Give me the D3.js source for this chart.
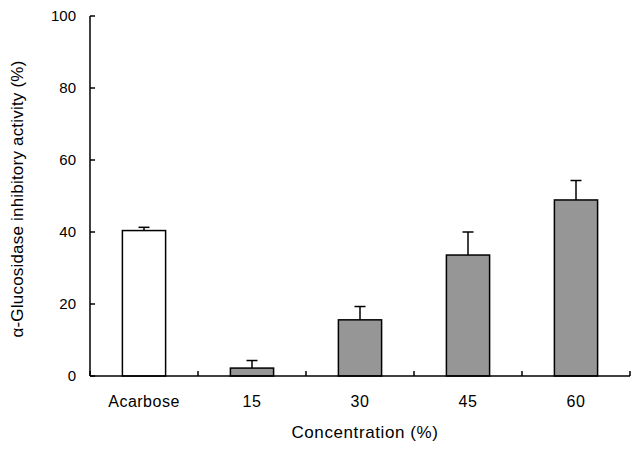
<html>
<head>
<script src="https://d3js.org/d3.v7.min.js"></script>
<style>
  body { margin: 0; background: #fff; }
  text { font-family: "Liberation Sans", Arial, sans-serif; fill: #000; }
</style>
</head>
<body>
<svg id="chart" width="636" height="454"></svg>
<script>
// data
const categories = ["Acarbose", "15", "30", "45", "60"];
const values = [40.4, 2.2, 15.6, 33.6, 48.9];
const errors = [0.9, 2.1, 3.7, 6.4, 5.4];
const yTicks = [0, 20, 40, 60, 80, 100];

const svg = d3.select("#chart");
const plotL = 90, plotR = 630, plotT = 16, plotB = 376;

const x = d3.scaleBand().domain(categories).range([plotL, plotR]).paddingInner(0.6).paddingOuter(0.3);
const y = d3.scaleLinear().domain([0, 100]).range([plotB, plotT]);

// bars
svg.append("g")
    .selectAll("rect")
    .data(categories)
    .join("rect")
    .attr("x", d => x(d))
    .attr("y", (d, i) => y(values[i]))
    .attr("width", x.bandwidth())
    .attr("height", (d, i) => y(0) - y(values[i]))
    .attr("fill", (d, i) => i === 0 ? "#fff" : "#969696")
    .attr("stroke", "#000")
    .attr("stroke-width", 1.5);

// error bars (upper only)
const eb = svg.append("g").attr("stroke", "#000").attr("stroke-width", 1.5);
categories.forEach((c, i) => {
    const cx = x(c) + x.bandwidth() / 2;
    eb.append("line").attr("x1", cx).attr("x2", cx)
        .attr("y1", y(values[i])).attr("y2", y(values[i] + errors[i]));
    eb.append("line").attr("x1", cx - 5.5).attr("x2", cx + 5.5)
        .attr("y1", y(values[i] + errors[i])).attr("y2", y(values[i] + errors[i]));
});

// y axis
const ya = svg.append("g").attr("stroke", "#000").attr("stroke-width", 1.5);
ya.append("line").attr("x1", plotL).attr("x2", plotL).attr("y1", plotT).attr("y2", plotB);
ya.selectAll(".t").data(yTicks).join("line")
    .attr("x1", plotL).attr("x2", plotL + 5)
    .attr("y1", d => y(d)).attr("y2", d => y(d));
svg.append("g").selectAll("text").data(yTicks).join("text")
    .attr("x", plotL - 14)
    .attr("y", d => y(d))
    .attr("dy", "0.35em")
    .attr("text-anchor", "end")
    .style("font-size", "15px")
    .text(d => d);

// x axis with tick marks between categories
const xTicks = d3.range(categories.length + 1).map(i => plotL + i * x.step());
const xa = svg.append("g").attr("stroke", "#000").attr("stroke-width", 1.5);
xa.append("line").attr("x1", plotL).attr("x2", plotR).attr("y1", plotB).attr("y2", plotB);
xa.selectAll(".t").data(xTicks).join("line")
    .attr("x1", d => d).attr("x2", d => d)
    .attr("y1", plotB).attr("y2", plotB - 5);
svg.append("g").selectAll("text").data(categories).join("text")
    .attr("x", d => x(d) + x.bandwidth() / 2)
    .attr("y", 407)
    .attr("text-anchor", "middle")
    .style("font-size", "16px")
    .style("letter-spacing", "0.5px")
    .text(d => d);

// axis titles
svg.append("text")
    .attr("x", (plotL + plotR) / 2 + 5)
    .attr("y", 438)
    .attr("text-anchor", "middle")
    .style("font-size", "17px")
    .style("letter-spacing", "0.6px")
    .text("Concentration (%)");

svg.append("text")
    .attr("transform", `translate(23, 199) rotate(-90)`)
    .attr("text-anchor", "middle")
    .style("font-size", "17px")
    .style("letter-spacing", "0.2px")
    .text("α-Glucosidase inhibitory activity (%)");
</script>
</body>
</html>
